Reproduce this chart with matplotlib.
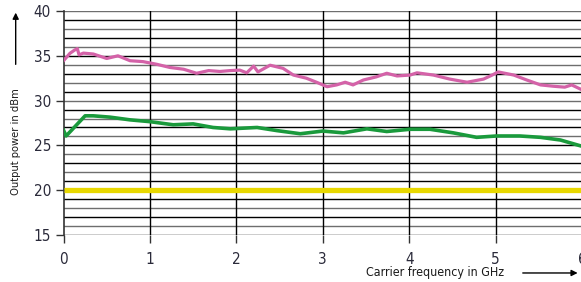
'''plot.py draws output power vs carrier frequency and saves it as out.png.
'''

import matplotlib.pyplot as plt
from matplotlib.patches import FancyArrowPatch

plt.rcParams['font.family'] = ['DejaVu Sans']
plt.rcParams['font.stretch'] = 'condensed'

# pink trace (upper)
pink_f = [0.0, 0.075, 0.13, 0.16, 0.18, 0.23, 0.345, 0.5, 0.63, 0.77, 0.92,
          1.08, 1.23, 1.39, 1.54, 1.68, 1.81, 1.93, 2.04, 2.12, 2.2, 2.25,
          2.39, 2.54, 2.66, 2.81, 2.94, 3.05, 3.16, 3.26, 3.35, 3.47, 3.62,
          3.74, 3.86, 4.01, 4.09, 4.28, 4.47, 4.67, 4.86, 4.96, 5.03, 5.21,
          5.36, 5.52, 5.67, 5.8, 5.88, 6.0]
pink_p = [34.45, 35.28, 35.65, 35.8, 35.1, 35.3, 35.2, 34.7, 35.0, 34.45, 34.35,
          34.05, 33.7, 33.5, 33.05, 33.35, 33.25, 33.35, 33.4, 33.1, 33.85, 33.2,
          33.95, 33.6, 32.85, 32.5, 32.0, 31.55, 31.75, 32.05, 31.75, 32.3, 32.65,
          33.05, 32.75, 32.85, 33.1, 32.85, 32.4, 32.05, 32.4, 32.85, 33.2, 32.85,
          32.3, 31.75, 31.6, 31.5, 31.75, 31.2]

# green trace (middle)
green_f = [0.0, 0.03, 0.25, 0.345, 0.54, 0.77, 1.0, 1.27, 1.5, 1.73, 1.93,
           2.24, 2.47, 2.74, 3.0, 3.24, 3.51, 3.74, 4.01, 4.24, 4.51, 4.78,
           5.01, 5.28, 5.52, 5.75, 6.0]
green_p = [26.7, 26.05, 28.3, 28.3, 28.15, 27.85, 27.65, 27.3, 27.4, 27.0, 26.85,
           27.0, 26.65, 26.3, 26.6, 26.4, 26.85, 26.55, 26.8, 26.8, 26.4, 25.9,
           26.05, 26.05, 25.9, 25.6, 24.9]

# yellow reference level
yellow_f = [0.0, 6.0]
yellow_p = [20.0, 20.0]

fig = plt.figure(figsize=(5.81, 2.82), dpi=100)
ax = fig.add_axes([0.1093, 0.1667, 0.8925, 0.7943])

# grid: horizontal every dB, vertical every GHz
for i, v in enumerate(range(15, 41)):
  ax.axhline(v, color='black' if i % 2 == 0 else '#6e6e6e', lw=1.0, zorder=1)
for f in range(1, 7):
  ax.axvline(f, color='black', lw=1.0, zorder=1)

ax.plot(yellow_f, yellow_p, color='#e8d800', lw=3.8, solid_capstyle='butt', zorder=3)
ax.plot(green_f, green_p, color='#1a9a3c', lw=2.6, solid_joinstyle='round', zorder=3)
ax.plot(pink_f, pink_p, color='#d462a8', lw=2.3, solid_joinstyle='round', zorder=3)

ax.set_xlim(0, 6)
ax.set_ylim(15, 40)
ax.set_xticks(range(0, 7))
ax.set_yticks([15, 20, 25, 30, 35, 40])
ax.tick_params(axis='both', direction='out', length=6, width=1.0, color='#333333',
               labelsize=11, labelcolor='#2a2a3a')
ax.tick_params(axis='y', pad=3)
ax.tick_params(axis='x', pad=6)
for s in ['top', 'right', 'bottom']:
  ax.spines[s].set_visible(False)
ax.spines['left'].set_color('#333333')
ax.spines['left'].set_linewidth(1.2)
ax.patch.set_alpha(0)

# axis titles with arrows
fig.text(0.027, 0.498, 'Output power in dBm', rotation=90, ha='center', va='center',
         fontsize=8, color='#1a1a1a')
fig.patches.append(FancyArrowPatch(
  (0.027, 0.762), (0.027, 0.965), transform=fig.transFigure, arrowstyle='-|>',
  mutation_scale=9, lw=1.0, color='black'))
fig.text(0.749, 0.032, 'Carrier frequency in GHz', ha='center', va='center',
         fontsize=8.9, color='#1a1a1a')
fig.patches.append(FancyArrowPatch(
  (0.895, 0.032), (0.999, 0.032), transform=fig.transFigure, arrowstyle='-|>',
  mutation_scale=9, lw=1.0, color='black'))

fig.savefig('out.png', dpi=100)
